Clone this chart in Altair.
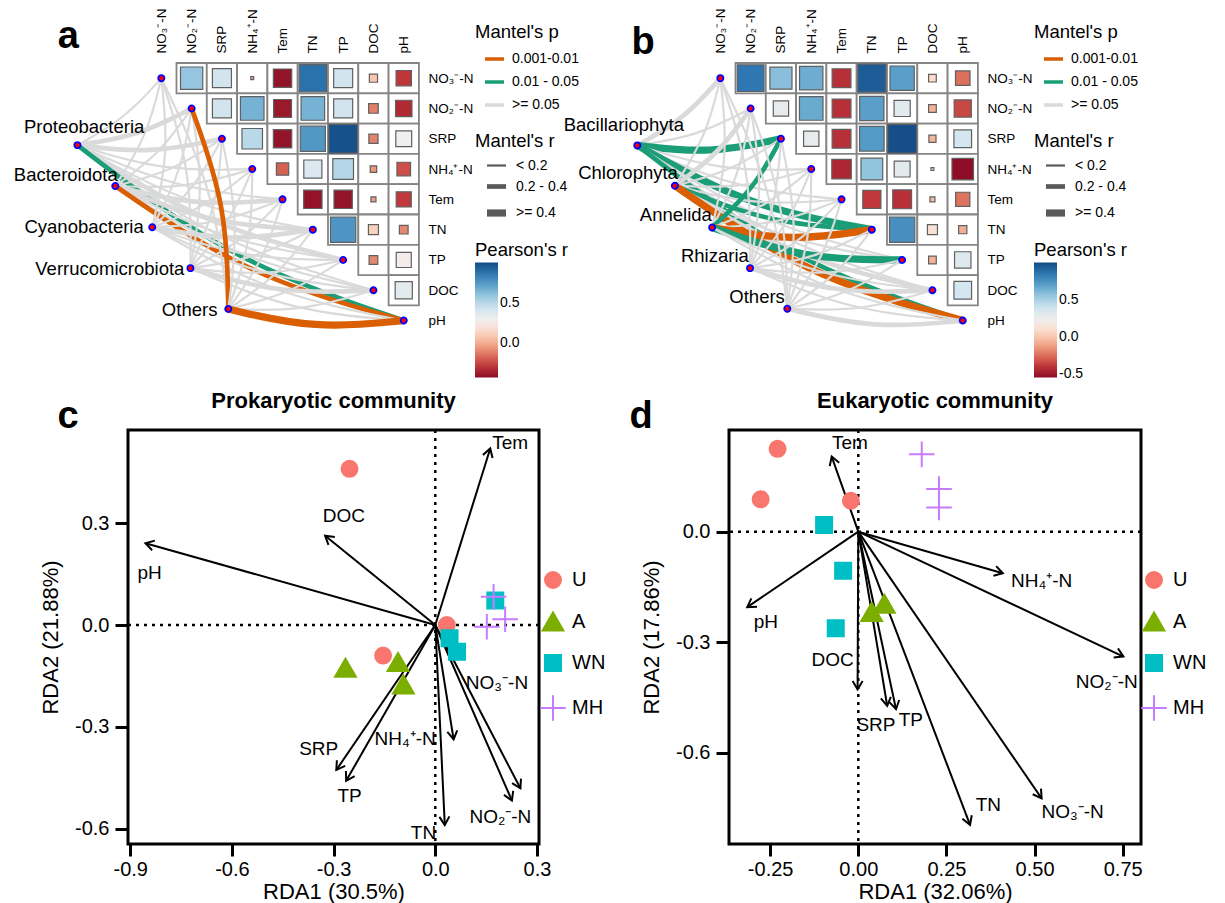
import math
import altair as alt
import pandas as pd

FONT = "Liberation Sans"

# ---------------- shared labels ----------------
ENV = ["NO₃⁻-N", "NO₂⁻-N", "SRP", "NH₄⁺-N", "Tem", "TN", "TP", "DOC", "pH"]
P_LABELS = ["0.001-0.01", "0.01 - 0.05", ">= 0.05"]
P_COLORS = ["#D95F02", "#1B9E77", "#DADADA"]
R_LABELS = ["< 0.2", "0.2 - 0.4", ">= 0.4"]

# ---------------- panel a (prokaryotes) ----------------
# Pearson's r, upper triangle: row i holds columns i+1 .. 8
R_A = [
    [0.59, 0.43, 0.01, -0.40, 0.88, 0.43, 0.08, -0.28],
    [0.43, 0.66, -0.38, 0.66, 0.43, -0.11, -0.32],
    [0.50, -0.40, 0.75, 0.98, -0.10, 0.30],
    [-0.18, 0.39, 0.51, -0.05, -0.22],
    [-0.40, -0.40, -0.03, -0.27],
    [0.76, 0.12, -0.09],
    [-0.09, 0.27],
    [0.35],
]
SPEC_A = ["Proteobacteria", "Bacteroidota", "Cyanobacteria", "Verrucomicrobiota", "Others"]
SPEC_A_X = [-2.77, -1.52, -0.30, 0.96, 2.21]
SPEC_A_Y = [2.21, 3.56, 4.92, 6.27, 7.62]
LAB_A_X = [-0.56, -1.44, -0.58, 0.76, 1.85]
LAB_A_Y = [1.62, 3.18, 4.92, 6.29, 7.66]
# Mantel classes per species x env (index into P_LABELS / R_LABELS)
P_A = [
    [2, 2, 2, 2, 2, 2, 2, 2, 1],
    [2, 2, 2, 2, 2, 2, 2, 2, 0],
    [2, 2, 2, 2, 2, 2, 2, 2, 2],
    [2, 2, 2, 2, 2, 2, 2, 2, 2],
    [2, 0, 2, 2, 2, 2, 2, 2, 0],
]
RC_A = [
    [0, 1, 1, 0, 0, 0, 1, 0, 1],
    [0, 0, 0, 0, 1, 1, 0, 0, 1],
    [0, 0, 0, 0, 0, 1, 0, 0, 0],
    [0, 0, 0, 0, 0, 0, 0, 1, 0],
    [0, 1, 0, 0, 0, 0, 0, 0, 2],
]

# ---------------- panel b (eukaryotes) ----------------
R_B = [
    [0.85, 0.58, 0.65, -0.42, 0.94, 0.70, 0.07, -0.25],
    [0.28, 0.66, -0.42, 0.70, 0.31, -0.07, -0.35],
    [0.28, -0.42, 0.72, 0.99, -0.06, 0.37],
    [-0.45, 0.56, 0.30, 0.01, -0.55],
    [-0.39, -0.42, -0.03, -0.24],
    [0.76, 0.12, -0.08],
    [-0.07, 0.32],
    [0.37],
]
SPEC_B = ["Bacillariophyta", "Chlorophyta", "Annelida", "Rhizaria", "Others"]
SPEC_B_X = [-2.74, -1.50, -0.27, 0.98, 2.21]
SPEC_B_Y = [2.22, 3.55, 4.93, 6.27, 7.61]
LAB_B_X = [-1.20, -1.40, -0.28, 0.94, 2.13]
LAB_B_Y = [1.54, 3.14, 4.52, 5.87, 7.23]
P_B = [
    [2, 2, 1, 2, 2, 1, 2, 2, 1],
    [2, 2, 2, 2, 2, 1, 2, 2, 0],
    [2, 2, 1, 2, 2, 0, 1, 2, 2],
    [2, 2, 2, 2, 2, 2, 2, 2, 2],
    [2, 2, 2, 2, 2, 2, 2, 2, 2],
]
RC_B = [
    [1, 0, 2, 0, 0, 2, 0, 0, 1],
    [0, 1, 0, 0, 0, 1, 0, 1, 2],
    [0, 0, 1, 0, 0, 2, 2, 0, 0],
    [0, 0, 0, 0, 0, 0, 0, 1, 0],
    [0, 0, 0, 0, 0, 0, 0, 0, 1],
]

# ---------------- panel c (RDA prokaryotes) ----------------
GROUPS = ["U", "A", "WN", "MH"]
C_G = ["U", "U", "U", "A", "A", "A", "WN", "WN", "WN", "MH", "MH", "MH"]
C_X = [-0.253, -0.154, 0.034, -0.265, -0.110, -0.094, 0.177, 0.042, 0.064, 0.172, 0.206, 0.152]
C_Y = [0.460, -0.090, 0.000, -0.128, -0.111, -0.177, 0.072, -0.039, -0.079, 0.083, 0.017, -0.005]
C_ARR_N = ["Tem", "DOC", "pH", "SRP", "TP", "NH₄⁺-N", "TN", "NO₃⁻-N", "NO₂⁻-N"]
C_ARR_X = [0.162, -0.325, -0.855, -0.292, -0.263, 0.054, 0.028, 0.251, 0.226]
C_ARR_Y = [0.520, 0.263, 0.241, -0.427, -0.459, -0.337, -0.589, -0.481, -0.517]
C_LAB_X = [0.221, -0.270, -0.843, -0.344, -0.253, -0.089, -0.035, 0.182, 0.192]
C_LAB_Y = [0.535, 0.321, 0.154, -0.366, -0.504, -0.337, -0.614, -0.170, -0.565]

# ---------------- panel d (RDA eukaryotes) ----------------
D_G = ["U", "U", "U", "A", "A", "WN", "WN", "WN", "MH", "MH", "MH"]
D_X = [-0.229, -0.277, -0.021, 0.038, 0.074, -0.097, -0.043, -0.064, 0.180, 0.229, 0.229]
D_Y = [0.225, 0.088, 0.084, -0.220, -0.197, 0.018, -0.106, -0.262, 0.210, 0.116, 0.066]
D_ARR_N = ["Tem", "pH", "NH₄⁺-N", "NO₂⁻-N", "DOC", "SRP", "TP", "TN", "NO₃⁻-N"]
D_ARR_X = [-0.0755, -0.315, 0.410, 0.752, -0.002, 0.082, 0.107, 0.317, 0.520]
D_ARR_Y = [0.204, -0.205, -0.113, -0.339, -0.428, -0.473, -0.482, -0.796, -0.724]
D_LAB_X = [-0.024, -0.262, 0.520, 0.705, -0.073, 0.050, 0.149, 0.369, 0.608]
D_LAB_Y = [0.240, -0.244, -0.134, -0.407, -0.348, -0.525, -0.511, -0.742, -0.760]

# ---------------- layout constants ----------------
CELL = 30.3
TOP_XDOM = [-1.1, 8.5]
TOP_YDOM = [-0.5, 8.5]
TOP_W = round((TOP_XDOM[1] - TOP_XDOM[0]) * CELL, 1)
TOP_H = round((TOP_YDOM[1] - TOP_YDOM[0]) * CELL, 1)
CURV = 0.055

ENV_EXPR = "[" + ",".join("'%s'" % e for e in ENV) + "][datum.value]"
NUM1 = "replace(format(datum.value, '.1f'), '\u2212', '-')"
NUM2 = "replace(format(datum.value, '.2f'), '\u2212', '-')"


def top_panel(R, rdom, rvals, species, spx, spy, labx, laby, pcls, rcls, letter, letx, lety):
    xs = alt.Scale(domain=TOP_XDOM, nice=False, zero=False)
    ys = alt.Scale(domain=TOP_YDOM, nice=False, zero=False, reverse=True)

    top_axis = alt.Axis(orient="top", values=list(range(9)), labelExpr=ENV_EXPR, labelAngle=270,
                        labelAlign="left", labelBaseline="middle", labelFontSize=13.5, labelPadding=10,
                        ticks=False, domain=False, grid=False, title=None, labelOverlap=False,
                        labelFlush=False)
    right_axis = alt.Axis(orient="right", values=list(range(9)), labelExpr=ENV_EXPR,
                          labelAlign="left", labelBaseline="middle", labelFontSize=13.5, labelPadding=9,
                          ticks=False, domain=False, grid=False, title=None, labelOverlap=False,
                          labelFlush=False)

    def X(f):
        return alt.X(f, scale=xs, axis=top_axis)

    def Y(f):
        return alt.Y(f, scale=ys, axis=right_axis)

    rows = []
    for i, rr in enumerate(R):
        for k, v in enumerate(rr):
            j = i + 1 + k
            rows.append({"cx": j, "cy": i, "x1": j - 0.5, "x2": j + 0.5,
                         "y1": i - 0.5, "y2": i + 0.5, "r": v, "ar": abs(v)})
    cells = pd.DataFrame(rows)

    grid = alt.Chart(cells).mark_rect(fill="white", stroke="#858585", strokeWidth=1.8).encode(
        x=X("x1:Q"), x2="x2:Q", y=Y("y1:Q"), y2="y2:Q")

    recs = []
    for si in range(len(species)):
        for j in range(9):
            x0, y0 = spx[si], spy[si]
            x1, y1 = float(j), float(j)
            dx, dy = x1 - x0, y1 - y0
            L = math.hypot(dx, dy)
            nx, ny = -dy / L, dx / L
            off = 1.5 * CURV * L
            cx, cy = (x0 + x1) / 2 + nx * off, (y0 + y1) / 2 + ny * off
            for seq, (px, py) in enumerate([(x0, y0), (cx, cy), (x1, y1)]):
                recs.append({"edge": si * 9 + j, "seq": seq, "ex": px, "ey": py,
                             "p": P_LABELS[pcls[si][j]], "rw": R_LABELS[rcls[si][j]]})
    edges = pd.DataFrame(recs)

    edge_layer = alt.Chart(edges).mark_line(interpolate="basis", strokeCap="butt").encode(
        x=X("ex:Q"), y=Y("ey:Q"),
        detail="edge:N",
        order="seq:Q",
        color=alt.Color("p:N", scale=alt.Scale(domain=P_LABELS, range=P_COLORS),
                        legend=alt.Legend(title="Mantel's p", orient="none", legendX=347, legendY=-40,
                                          symbolType="stroke", symbolSize=361, symbolStrokeWidth=3.5,
                                          symbolOffset=8, labelFontSize=14, titleFontSize=18.5,
                                          titleFontWeight="normal", rowPadding=4, labelOffset=6,
                                          titlePadding=6)),
        strokeWidth=alt.StrokeWidth("rw:O", scale=alt.Scale(type="point", domain=R_LABELS,
                                                             range=[2.2, 7.2], padding=0),
                                    legend=alt.Legend(title="Mantel's r", orient="none", legendX=347,
                                                      legendY=69, symbolType="stroke", symbolSize=361,
                                                      symbolStrokeColor="#5a5a5a", symbolOffset=8,
                                                      labelFontSize=14, titleFontSize=18.5,
                                                      titleFontWeight="normal", rowPadding=2,
                                                      labelOffset=6, titlePadding=4)),
    )

    squares = alt.Chart(cells).mark_point(shape="square", filled=True, stroke="#606060",
                                          strokeWidth=1.2, opacity=1).encode(
        x=X("cx:Q"), y=Y("cy:Q"),
        fill=alt.Fill("r:Q", scale=alt.Scale(scheme="redblue", domain=rdom),
                      legend=alt.Legend(title="Pearson's r", orient="none", legendX=347, legendY=178,
                                        gradientLength=115, gradientThickness=23, values=rvals,
                                        labelExpr=NUM1, labelFontSize=14, titleFontSize=18.5,
                                        titleFontWeight="normal", titlePadding=3, direction="vertical",
                                        gradientStrokeWidth=0)),
        size=alt.Size("ar:Q", scale=alt.Scale(domain=[0, 1], range=[0, 29 * 29]), legend=None),
    )

    nodes = pd.DataFrame({"nx": list(spx) + [float(j) for j in range(9)],
                          "ny": list(spy) + [float(j) for j in range(9)]})
    node_layer = alt.Chart(nodes).mark_point(shape="circle", filled=True, fill="#FF0000",
                                             stroke="#0000FF", strokeWidth=1.8, size=38,
                                             opacity=1).encode(x=X("nx:Q"), y=Y("ny:Q"))

    labs = pd.DataFrame({"name": species, "lx": labx, "ly": laby})
    lab_layer = alt.Chart(labs).mark_text(align="right", baseline="middle", fontSize=18.5,
                                          color="black").encode(
        x=X("lx:Q"), y=Y("ly:Q"), text="name:N")

    let = pd.DataFrame({"t": [letter], "x": [letx], "y": [lety]})
    let_layer = alt.Chart(let).mark_text(fontSize=38, fontWeight="bold", baseline="alphabetic",
                                         align="center", color="black").encode(
        x=X("x:Q"), y=Y("y:Q"), text="t:N")

    return alt.layer(grid, edge_layer, squares, node_layer, lab_layer, let_layer).properties(
        width=TOP_W, height=TOP_H)


def rda_panel(title, xdom, ydom, W, H, xvals, yvals, xexpr, xtitle, ytitle,
              pg, px, py, an, ax, ay, lx, ly, letter, letx, lety):
    xs = alt.Scale(domain=xdom, nice=False, zero=False)
    ys = alt.Scale(domain=ydom, nice=False, zero=False)
    sxp = W / (xdom[1] - xdom[0])
    syp = H / (ydom[1] - ydom[0])

    xaxis = alt.Axis(values=xvals, labelExpr=xexpr, title=xtitle, grid=False, domain=False,
                     tickSize=12, tickWidth=3, tickColor="black", labelFontSize=20, titleFontSize=22,
                     labelPadding=3, titlePadding=2, titleFontWeight="normal", labelFlush=False,
                     labelOverlap=False)
    yaxis = alt.Axis(values=yvals, labelExpr=NUM1, title=ytitle, grid=False, domain=False,
                     tickSize=13, tickWidth=3, tickColor="black", labelFontSize=20, titleFontSize=22,
                     labelPadding=6, titlePadding=12, titleFontWeight="normal", labelFlush=False,
                     labelOverlap=False)

    def X(f):
        return alt.X(f, scale=xs, axis=xaxis)

    def Y(f):
        return alt.Y(f, scale=ys, axis=yaxis)

    zero = pd.DataFrame({"v": [0.0]})
    vline = alt.Chart(zero).mark_rule(strokeDash=[3, 5], strokeWidth=2.5, color="black").encode(
        x=X("v:Q"))
    hline = alt.Chart(zero).mark_rule(strokeDash=[3, 5], strokeWidth=2.5, color="black").encode(
        y=Y("v:Q"))

    arr = pd.DataFrame({"name": an, "x0": 0.0, "y0": 0.0, "x": ax, "y": ay})
    arr["ang"] = [math.degrees(math.atan2(-b * syp, a * sxp)) % 360 for a, b in zip(ax, ay)]
    shafts = alt.Chart(arr).mark_rule(strokeWidth=2, color="black").encode(
        x=X("x0:Q"), y=Y("y0:Q"), x2="x:Q", y2="y:Q")
    heads = alt.Chart(arr).mark_point(shape="M-1,-0.6L0,0L-1,0.6", filled=False, stroke="black",
                                      strokeWidth=2, size=280, opacity=1).encode(
        x=X("x:Q"), y=Y("y:Q"), angle=alt.Angle("ang:Q", scale=None))

    labs = pd.DataFrame({"name": an, "lx": lx, "ly": ly})
    labels = alt.Chart(labs).mark_text(fontSize=19, align="center", baseline="middle",
                                       color="black").encode(
        x=X("lx:Q"), y=Y("ly:Q"), text="name:N")

    leg = alt.Legend(title=None, orient="none", legendX=415, legendY=140, labelFontSize=20,
                     symbolSize=256, symbolStrokeWidth=2, rowPadding=16, labelOffset=9)
    pts = pd.DataFrame({"g": pg, "x": px, "y": py})
    points = alt.Chart(pts).mark_point(size=256, strokeWidth=2, opacity=1).encode(
        x=X("x:Q"), y=Y("y:Q"),
        shape=alt.Shape("g:N", scale=alt.Scale(domain=GROUPS, range=[
            "circle", "M0,-1.2L1.3,1.05L-1.3,1.05Z", "square", "M-1.6,0L1.6,0M0,-1.6L0,1.6"]),
            legend=leg),
        fill=alt.Fill("g:N", scale=alt.Scale(domain=GROUPS, range=[
            "#F8766D", "#7CAE00", "#00BFC4", "transparent"]), legend=leg),
        stroke=alt.Stroke("g:N", scale=alt.Scale(domain=GROUPS, range=[
            "#F8766D", "#7CAE00", "#00BFC4", "#C77CFF"]), legend=leg),
    )

    let = pd.DataFrame({"t": [letter], "x": [letx], "y": [lety]})
    let_layer = alt.Chart(let).mark_text(fontSize=38, fontWeight="bold", baseline="alphabetic",
                                         align="center", color="black").encode(
        x=X("x:Q"), y=Y("y:Q"), text="t:N")

    return alt.layer(vline, hline, shafts, heads, labels, points, let_layer).properties(
        width=W, height=H,
        title=alt.TitleParams(title, fontSize=22, fontWeight="bold", anchor="middle", offset=24,
                              dy=56, baseline="alphabetic", frame="group"),
        view=alt.ViewBackground(stroke="black", strokeWidth=3))


pa = top_panel(R_A, [-0.42, 1.0], [0.0, 0.5], SPEC_A, SPEC_A_X, SPEC_A_Y, LAB_A_X, LAB_A_Y,
               P_A, RC_A, "a", -3.07, -0.99)
pb = top_panel(R_B, [-0.55, 1.0], [-0.5, 0.0, 0.5], SPEC_B, SPEC_B_X, SPEC_B_Y, LAB_B_X, LAB_B_Y,
               P_B, RC_B, "b", -2.55, -0.80)

C_W, C_H = 411, 414
pc = rda_panel("Prokaryotic community", [-0.9065, 0.3059], [-0.645, 0.5744], C_W, C_H,
               [-0.9, -0.6, -0.3, 0.0, 0.3], [0.3, 0.0, -0.3, -0.6], NUM1,
               "RDA1 (30.5%)", "RDA2 (21.88%)", C_G, C_X, C_Y, C_ARR_N, C_ARR_X, C_ARR_Y,
               C_LAB_X, C_LAB_Y, "c", -1.083, 0.580)
D_W, D_H = 412, 414
pd_ = rda_panel("Eukaryotic community", [-0.3668, 0.802], [-0.848, 0.2761], D_W, D_H,
                [-0.25, 0.0, 0.25, 0.5, 0.75], [0.0, -0.3, -0.6], NUM2,
                "RDA1 (32.06%)", "RDA2 (17.86%)", D_G, D_X, D_Y, D_ARR_N, D_ARR_X, D_ARR_Y,
                D_LAB_X, D_LAB_Y, "d", -0.616, 0.2816)

top = alt.hconcat(pa, pb, spacing=268, bounds="flush").resolve_scale(
    x="independent", y="independent", color="independent", fill="independent",
    strokeWidth="independent", size="independent")
bottom = alt.hconcat(pc, pd_, spacing=190, bounds="flush").resolve_scale(
    x="independent", y="independent", shape="independent", fill="independent",
    stroke="independent")

chart = alt.vconcat(top, bottom, spacing=367, bounds="flush").resolve_scale(
    x="independent", y="independent", color="independent", fill="independent",
    strokeWidth="independent", size="independent", shape="independent", stroke="independent"
).properties(
    padding={"left": 13, "top": 8, "right": 4, "bottom": 4}
).configure(font=FONT).configure_view(strokeWidth=0).configure_axis(
    labelColor="black", titleColor="black", labelFont=FONT, titleFont=FONT
).configure_legend(
    labelColor="black", titleColor="black", labelFont=FONT, titleFont=FONT
).configure_title(color="black", font=FONT)

chart.save("out.html", embed_options={"renderer": "svg", "actions": False})
